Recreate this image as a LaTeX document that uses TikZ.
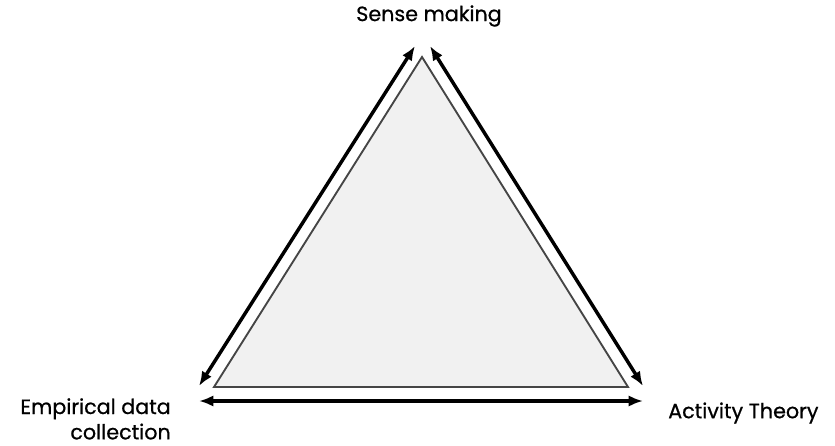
\documentclass[tikz,border=0pt]{standalone}
\usepackage{fontspec}
\setmainfont{Poppins}[FakeBold=0.7]
\usetikzlibrary{arrows.meta,positioning}
\definecolor{trifill}{HTML}{F1F1F1}
\definecolor{triline}{HTML}{454545}
\tikzset{
  corner/.style={font=\fontsize{15.5}{19}\selectfont,text=black,inner sep=0pt},
  tiside/.style={draw=triline,line width=1.4pt,fill=trifill,line join=miter},
  link/.style={{Latex[length=3.8mm,width=3mm]}-{Latex[length=3.8mm,width=3mm]},line width=2.6pt,draw=black}
}
\begin{document}
\begin{tikzpicture}[x=0.75pt,y=-0.75pt]
    \useasboundingbox (0,0) rectangle (835,446);
    % the grey triangle
    \coordinate (top) at (422,57);
    \coordinate (left) at (214,387);
    \coordinate (right) at (628,387);
    \draw[tiside] (top)--(left)--(right)--cycle;
    % arrow end points
    \coordinate (topL) at (415,46);
    \coordinate (topR) at (430,46);
    \coordinate (leftA) at (199,386);
    \coordinate (rightA) at (643,386);
    \coordinate (leftB) at (199,401);
    \coordinate (rightB) at (643,401);
    \draw[link] (topL)--(leftA);
    \draw[link] (topR)--(rightA);
    \draw[link] (leftB)--(rightB);
    % labels
    \node[corner] (sense) at (429,16) {Sense making};
    \node[corner,align=right,anchor=north east] (empir) at (171,398) {Empirical data\\collection};
    \node[corner,anchor=west] (activ) at (668,413) {Activity Theory};
  \end{tikzpicture}
\end{document}
